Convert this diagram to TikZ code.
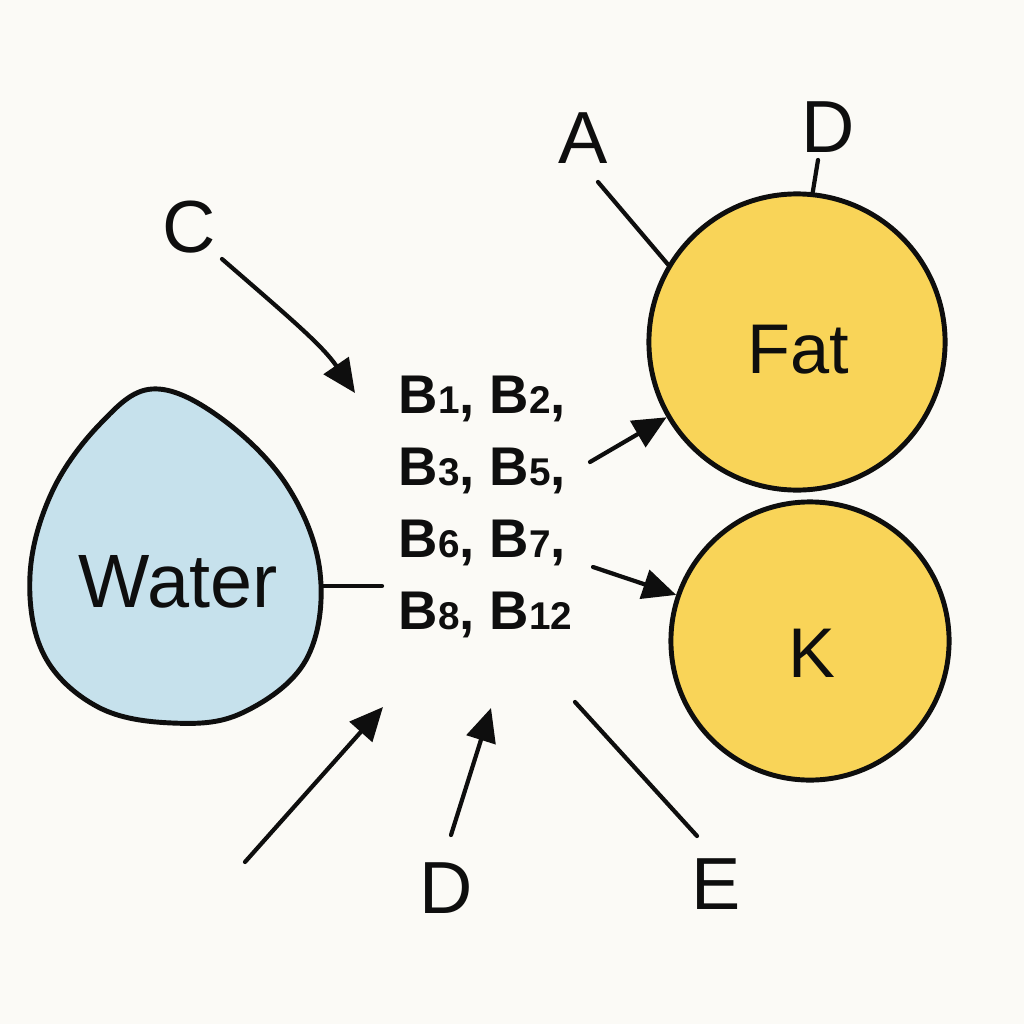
\documentclass[tikz,border=0pt]{standalone}
\usepackage{fontspec}
\setmainfont{Liberation Sans}
\usetikzlibrary{arrows.meta}
\definecolor{bg}{HTML}{FBFAF6}
\definecolor{waterblue}{HTML}{C6E1EC}
\definecolor{fatyellow}{HTML}{F9D458}
\definecolor{ink}{HTML}{0E0E0E}
\begin{document}
\begin{tikzpicture}[x=0.01cm,y=-0.01cm,
  conn/.style={draw=ink,line width=1.2pt,line cap=round},
  arr/.style={conn,-{Triangle[length=9.5pt,width=8.5pt]}},
  blob/.style={draw=ink,line width=1.4pt,circle,inner sep=0pt},
  lbl/.style={font=\fontsize{21}{24}\selectfont,text=ink,inner sep=0pt},
  btxt/.style={font=\fontsize{15.5}{20.5}\selectfont\bfseries,text=ink,align=left,inner sep=0pt}]
\fill[bg] (0,0) rectangle (1024,1024);
\useasboundingbox (0,0) rectangle (1024,1024);
% water drop
\draw[fill=waterblue,draw=ink,line width=1.4pt] plot[smooth cycle,tension=0.62] coordinates
 {(152,389) (218,416) (286,484) (320,572) (306,660) (242,713) (172,723) (98,707) (44,655) (30,575) (52,492) (100,424)};
\node[lbl,font=\fontsize{21.5}{24}\selectfont] (water) at (178,582) {Water};
% circles
\node[blob,fill=fatyellow,minimum size=2.96cm] (fat) at (797,342) {};
\node[lbl,font=\fontsize{20}{24}\selectfont] (fattxt) at (798,350) {Fat};
\node[blob,fill=fatyellow,minimum size=2.78cm] (k) at (810,641) {};
\node[lbl,font=\fontsize{20}{24}\selectfont] (ktxt) at (812,653) {K};
% B text
\newcommand{\dg}[1]{{\fontsize{11}{12}\selectfont #1}}
\node[btxt,anchor=north west] (btxt) at (398,375) {B\dg{1}, B\dg{2},\\B\dg{3}, B\dg{5},\\B\dg{6}, B\dg{7},\\B\dg{8}, B\dg{12}};
% labels
\node[lbl] (A) at (583,138) {A};
\node[lbl] (Dt) at (828,127) {D};
\node[lbl] (C) at (189,227) {C};
\node[lbl] (Db) at (446,888) {D};
\node[lbl] (E) at (716,884) {E};
% coordinates
\coordinate (aS) at (598,182);
\coordinate (dtS) at (818,160);
\coordinate (cS) at (222,259);
\coordinate (cE) at (355,393);
\coordinate (wR) at (322,586);
\coordinate (wL) at (382,586);
\coordinate (f1S) at (590,462);
\coordinate (k1S) at (593,567);
\coordinate (blS) at (245,862);
\coordinate (blE) at (383,707);
\coordinate (dbS) at (451,835);
\coordinate (dbE) at (491,708);
\coordinate (eS) at (575,702);
\coordinate (eE) at (697,836);
% connectors
\draw[conn] (aS) -- (fat.149);
\draw[conn] (dtS) -- (fat.84);
\draw[arr] (cS) .. controls (290,318) and (322,345) .. (cE);
\draw[conn] (wR) -- (wL);
\draw[arr] (f1S) -- (fat.210);
\draw[arr] (k1S) -- (k.161);
\draw[arr] (blS) -- (blE);
\draw[arr] (dbS) -- (dbE);
\draw[conn] (eS) -- (eE);
\end{tikzpicture}
\end{document}
